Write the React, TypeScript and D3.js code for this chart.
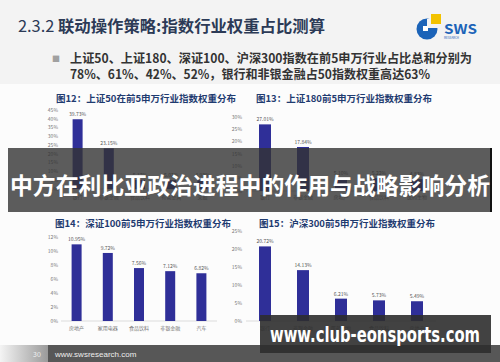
import React, { useEffect, useRef } from 'react';
import * as d3 from 'd3';

// 图12 上证50
const sz50Cats = ['银行', '非银金融', '食品饮料', '有色金属', '采掘'];
const sz50Vals = [39.73, 23.15, 5.17, 5.02, 4.93];
const sz50Ticks = [0, 5, 10, 15, 20, 25, 30, 35, 40, 45];

// 图13 上证180
const sz180Cats = ['银行', '非银金融', '房地产', '食品饮料', '医药生物'];
const sz180Vals = [27.01, 17.84, 5.1, 5.22, 4.83];
const sz180Ticks = [0, 5, 10, 15, 20, 25, 30];

// 图14 深证100
const sz100Cats = ['房地产', '家用电器', '食品饮料', '非银金融', '汽车'];
const sz100Vals = [10.95, 9.72, 7.56, 7.12, 6.82];
const sz100Ticks = [0, 2, 4, 6, 8, 10, 12];

// 图15 沪深300
const hs300Cats = ['银行', '非银金融', '医药生物', '食品饮料', '房地产'];
const hs300Vals = [20.72, 14.13, 6.21, 5.73, 5.49];
const hs300Ticks = [0, 5, 10, 15, 20, 25];

const W = 500;
const H = 362;
const FONT = '"Noto Sans CJK SC", "Noto Sans", sans-serif';
const BAR = '#2f2f98';

const panels = [
  { title: '图12：上证50在前5申万行业指数权重分布', cats: sz50Cats, vals: sz50Vals, ticks: sz50Ticks,
    tx: 146, ty: 102, x0: 62, x1: 218, y0: 189, y1: 110, lx: 58, bw: 10, cy: 199 },
  { title: '图13：上证180前5申万行业指数权重分布', cats: sz180Cats, vals: sz180Vals, ticks: sz180Ticks,
    tx: 344, ty: 102, x0: 246, x1: 436, y0: 191, y1: 117, lx: 242, bw: 12, cy: 199 },
  { title: '图14：深证100前5申万行业指数权重分布', cats: sz100Cats, vals: sz100Vals, ticks: sz100Ticks,
    tx: 143, ty: 227, x0: 61, x1: 217, y0: 321, y1: 237, lx: 58, bw: 10, cy: 330 },
  { title: '图15：沪深300前5申万行业指数权重分布', cats: hs300Cats, vals: hs300Vals, ticks: hs300Ticks,
    tx: 347, ty: 227, x0: 246, x1: 436, y0: 321, y1: 231, lx: 242, bw: 12, cy: 330 },
];

export default function App() {
  const ref = useRef<SVGSVGElement>(null);

  useEffect(() => {
    const svg = d3.select(ref.current);
    svg.selectAll('*').remove();
    svg.style('font-family', FONT);

    // background
    svg.append('rect').attr('width', W).attr('height', H).attr('fill', '#f3f3f3');
    svg.append('rect').attr('y', 84).attr('width', W).attr('height', 261).attr('fill', '#fcfcfc');

    // header
    const head = svg.append('text')
      .attr('x', 18).attr('y', 32)
      .attr('font-size', 16).attr('fill', '#2c3a56')
      .attr('textLength', 307).attr('lengthAdjust', 'spacingAndGlyphs');
    head.append('tspan').text('2.3.2 ');
    head.append('tspan').attr('font-weight', 'bold').text('联动操作策略:指数行业权重占比测算');

    // logo
    const logo = svg.append('g');
    logo.append('circle').attr('cx', 427).attr('cy', 29).attr('r', 10.5).attr('fill', '#1b63b8');
    logo.append('rect').attr('x', 427).attr('y', 19).attr('width', 11).attr('height', 9).attr('fill', '#f3f3f3');
    logo.append('rect').attr('x', 423).attr('y', 26).attr('width', 5).attr('height', 5).attr('fill', '#ffffff');
    logo.append('rect').attr('x', 431).attr('y', 14).attr('width', 10).attr('height', 10).attr('fill', '#f2c200');
    logo.append('text').attr('x', 444).attr('y', 34).attr('font-size', 13).attr('font-weight', 'bold')
      .attr('fill', '#1b63b8').attr('textLength', 33).attr('lengthAdjust', 'spacingAndGlyphs').text('SWS');
    logo.append('text').attr('x', 444).attr('y', 38.5).attr('font-size', 3).attr('fill', '#1b63b8').text('RESEARCH');

    // bullet
    svg.append('text').attr('x', 52).attr('y', 62).attr('font-size', 8).attr('fill', '#a0a0a0').text('■');
    svg.append('text').attr('x', 70).attr('y', 63).attr('font-size', 12.5).attr('font-weight', 'bold')
      .attr('fill', '#333').attr('textLength', 402).attr('lengthAdjust', 'spacingAndGlyphs')
      .text('上证50、上证180、深证100、沪深300指数在前5申万行业占比总和分别为');
    svg.append('text').attr('x', 70).attr('y', 79).attr('font-size', 12.5).attr('font-weight', 'bold')
      .attr('fill', '#333').attr('textLength', 360).attr('lengthAdjust', 'spacingAndGlyphs')
      .text('78%、61%、42%、52%，银行和非银金融占50指数权重高达63%');

    // panels
    panels.forEach(p => {
      const g = svg.append('g');
      const x = d3.scalePoint<string>().domain(p.cats).range([p.x0, p.x1]).padding(0.5);
      const y = d3.scaleLinear().domain([0, d3.max(p.ticks) as number]).range([p.y0, p.y1]);

      g.append('text').attr('x', p.tx).attr('y', p.ty).attr('text-anchor', 'middle')
        .attr('font-size', 9.5).attr('font-weight', 'bold').attr('fill', '#1f3b70').text(p.title);

      g.selectAll('.tick').data(p.ticks).enter().append('text')
        .attr('x', p.lx).attr('y', d => y(d) + 1.8)
        .attr('text-anchor', 'end').attr('font-size', 5).attr('fill', '#777')
        .text(d => d + '%');

      g.append('line').attr('x1', p.x0).attr('x2', p.x1).attr('y1', p.y0).attr('y2', p.y0)
        .attr('stroke', '#d4d4d4').attr('stroke-width', 0.8);

      const data = p.cats.map((c, i) => ({ c, v: p.vals[i] }));
      g.selectAll('.bar').data(data).enter().append('rect')
        .attr('x', d => (x(d.c) as number) - p.bw / 2)
        .attr('y', d => y(d.v))
        .attr('width', p.bw)
        .attr('height', d => p.y0 - y(d.v))
        .attr('fill', BAR);

      g.selectAll('.val').data(data).enter().append('text')
        .attr('x', d => x(d.c) as number).attr('y', d => y(d.v) - 3)
        .attr('text-anchor', 'middle').attr('font-size', 5).attr('fill', '#555')
        .text(d => d.v.toFixed(2) + '%');

      g.selectAll('.cat').data(data).enter().append('text')
        .attr('x', d => x(d.c) as number).attr('y', p.cy)
        .attr('text-anchor', 'middle').attr('font-size', 5).attr('fill', '#777')
        .text(d => d.c);
    });

    // footer
    const defs = svg.append('defs');
    const fg = defs.append('linearGradient').attr('id', 'pg');
    fg.append('stop').attr('offset', '0%').attr('stop-color', '#f4f4f4');
    fg.append('stop').attr('offset', '100%').attr('stop-color', '#9a9a9a');
    svg.append('rect').attr('y', 345).attr('width', W).attr('height', 17).attr('fill', '#575757');
    svg.append('rect').attr('y', 345).attr('width', 48).attr('height', 17).attr('fill', 'url(#pg)');
    svg.append('text').attr('x', 33).attr('y', 357).attr('font-size', 7).attr('fill', '#f0f0f0').text('30');
    svg.append('text').attr('x', 55).attr('y', 357).attr('font-size', 8).attr('fill', '#eeeeee')
      .attr('font-family', '"Liberation Sans", sans-serif').text('www.swsresearch.com');

    // overlay banner
    svg.append('rect').attr('x', 8).attr('y', 148).attr('width', 484).attr('height', 64)
      .attr('fill', '#333').attr('fill-opacity', 0.8);
    svg.append('rect').attr('x', 490).attr('y', 148).attr('width', 2).attr('height', 64).attr('fill', '#111');
    svg.append('text').attr('x', 250).attr('y', 194).attr('text-anchor', 'middle')
      .attr('font-size', 23).attr('font-weight', 'bold').attr('fill', '#fff')
      .attr('textLength', 480).attr('lengthAdjust', 'spacingAndGlyphs')
      .text('中方在利比亚政治进程中的作用与战略影响分析');

    // watermark
    svg.append('rect').attr('x', 260).attr('y', 315).attr('width', 231).attr('height', 38)
      .attr('fill', '#2e2e2e').attr('fill-opacity', 0.9);
    svg.append('text').attr('x', 270).attr('y', 342)
      .attr('font-size', 21).attr('font-weight', 'bold').attr('fill', '#fff')
      .attr('font-family', '"DejaVu Sans", sans-serif')
      .attr('textLength', 210).attr('lengthAdjust', 'spacingAndGlyphs')
      .text('www.club-eonsports.com');
  }, []);

  return <svg ref={ref} width={W} height={H} style={{ position: 'absolute', left: 0, top: 0 }} />;
}
